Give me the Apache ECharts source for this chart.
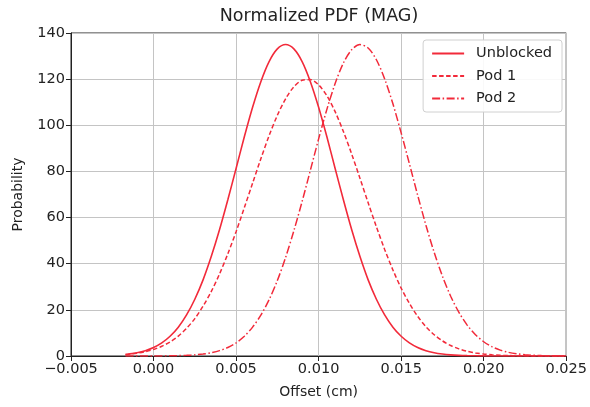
<!DOCTYPE html>
<html>
<head>
<meta charset="utf-8">
<script src="https://cdn.jsdelivr.net/npm/echarts@6/dist/echarts.min.js"></script>
<style>
html,body{margin:0;padding:0;background:#fff;}
#chart{width:590px;height:407px;}
</style>
</head>
<body>
<div id="chart"></div>
<script>
// Offsets (cm)
const offsets = [-0.0017, -0.0015, -0.0010, -0.0005, 0.0000, 0.0005, 0.0010, 0.0015, 0.0020, 0.0025,
  0.0030, 0.0035, 0.0040, 0.0045, 0.0050, 0.0055, 0.0060, 0.0065, 0.0070, 0.0075,
  0.0080, 0.0085, 0.0090, 0.0095, 0.0100, 0.0105, 0.0110, 0.0115, 0.0120, 0.0125,
  0.0130, 0.0135, 0.0140, 0.0145, 0.0150, 0.0155, 0.0160, 0.0165, 0.0170, 0.0175,
  0.0180, 0.0185, 0.0190, 0.0195, 0.0200, 0.0205, 0.0210, 0.0215, 0.0220, 0.0225,
  0.0230, 0.0235, 0.0240, 0.0245, 0.0250];

const unblocked = [0.68, 0.84, 1.41, 2.31, 3.68, 5.69, 8.55, 12.5, 17.8, 24.6,
  33.0, 43.2, 54.8, 67.7, 81.3, 95.0, 107.8, 118.9, 127.6, 133.1,
  135.0, 133.1, 127.6, 118.9, 107.8, 95.0, 81.3, 67.7, 54.8, 43.2,
  33.0, 24.6, 17.8, 12.5, 8.55, 5.69, 3.68, 2.31, 1.41, 0.84,
  0.48, 0.27, 0.15, 0.08, 0.04, 0.02, 0.01, 0, 0, 0,
  0, 0, 0, 0, 0];

const pod1 = [0.64, 0.77, 1.22, 1.88, 2.85, 4.21, 6.10, 8.64, 12.0, 16.2,
  21.6, 28.0, 35.6, 44.3, 53.9, 64.3, 74.9, 85.5, 95.5, 104.3,
  111.5, 116.7, 119.5, 119.8, 117.5, 112.8, 105.9, 97.3, 87.6, 77.1,
  66.4, 56.0, 46.2, 37.3, 29.4, 22.8, 17.2, 12.7, 9.23, 6.55,
  4.54, 3.09, 2.05, 1.33, 0.85, 0.53, 0.32, 0.19, 0.11, 0.064,
  0.035, 0.019, 0.01, 0.005, 0];

const pod2 = [0, 0, 0.005, 0.01, 0.02, 0.04, 0.08, 0.15, 0.28, 0.49,
  0.85, 1.43, 2.33, 3.69, 5.69, 8.54, 12.5, 17.7, 24.4, 32.7,
  42.7, 54.3, 67.0, 80.5, 94.1, 106.9, 118.1, 127.0, 132.7, 135.0,
  133.5, 128.4, 120.1, 109.3, 96.7, 83.3, 69.7, 56.7, 44.9, 34.6,
  25.9, 18.9, 13.4, 9.22, 6.18, 4.03, 2.56, 1.58, 0.95, 0.55,
  0.31, 0.17, 0.09, 0.05, 0.02];

const seriesNames = ['Unblocked', 'Pod 1', 'Pod 2'];
const xTicks = {min: -0.005, max: 0.025, interval: 0.005};
const yTicks = {min: 0, max: 140, interval: 20};

const FONT = 'DejaVu Sans';
const RED = '#f22a3a';

function pairs(ys){ return offsets.map((x,i)=>[x, ys[i]]); }

const chart = echarts.init(document.getElementById('chart'), null, {renderer:'canvas'});
chart.setOption({
  animation:false,
  backgroundColor:'#fff',
  title:{
    text:'Normalized PDF (MAG)',
    left:314, top:2, textAlign:'center',
    textStyle:{fontFamily:FONT, fontSize:17.5, fontWeight:'normal', color:'#222'}
  },
  grid:{left:71, right:21, top:33, bottom:51, show:true, borderColor:'#222', borderWidth:1, backgroundColor:'transparent', containLabel:false},
  legend:{
    orient:'vertical', right:28, top:40,
    data:seriesNames,
    itemWidth:32, itemHeight:14, itemGap:7.5,
    padding:[6,10,6,8],
    itemStyle:{opacity:0, borderWidth:0},
    borderColor:'#d0d0d0', borderWidth:1, borderRadius:3, backgroundColor:'rgba(255,255,255,0.9)',
    textStyle:{fontFamily:FONT, fontSize:14.5, color:'#222', padding:[0,0,0,7]}
  },
  xAxis:{
    type:'value', min:xTicks.min, max:xTicks.max, interval:xTicks.interval,
    name:'Offset (cm)', nameLocation:'middle', nameGap:29,
    nameTextStyle:{fontFamily:FONT, fontSize:14, color:'#222'},
    axisLine:{show:true, onZero:false, lineStyle:{color:'#222', width:1}},
    axisTick:{show:true, length:5, inside:false, lineStyle:{color:'#222'}},
    axisLabel:{fontFamily:FONT, fontSize:14.5, color:'#222', margin:6,
      formatter:v=>{ const r=Math.round(v*1000)/1000; return (r<0?'\u2212':'')+Math.abs(r).toFixed(3);} },
    splitLine:{show:true, lineStyle:{color:'#c4c4c4', width:1}}
  },
  yAxis:{
    type:'value', min:yTicks.min, max:yTicks.max, interval:yTicks.interval,
    name:'Probability', nameLocation:'middle', nameGap:46, nameRotate:90,
    nameTextStyle:{fontFamily:FONT, fontSize:14, color:'#222'},
    axisLine:{show:true, onZero:false, lineStyle:{color:'#222', width:1}},
    axisTick:{show:true, length:5, inside:false, lineStyle:{color:'#222'}},
    axisLabel:{fontFamily:FONT, fontSize:14.5, color:'#222', margin:6},
    splitLine:{show:true, lineStyle:{color:'#c4c4c4', width:1}}
  },
  series:[
    {name:seriesNames[0], type:'line', data:pairs(unblocked), smooth:0.3, symbol:'none', showSymbol:false,
     lineStyle:{color:RED, width:1.6, type:'solid'}, itemStyle:{color:RED}},
    {name:seriesNames[1], type:'line', data:pairs(pod1), smooth:0.3, symbol:'none', showSymbol:false,
     lineStyle:{color:RED, width:1.5, type:[4.5,2.5]}, itemStyle:{color:RED}},
    {name:seriesNames[2], type:'line', data:pairs(pod2), smooth:0.3, symbol:'none', showSymbol:false,
     lineStyle:{color:RED, width:1.5, type:[8,2.5,1.5,2.5]}, itemStyle:{color:RED}}
  ]
});
</script>
</body>
</html>
